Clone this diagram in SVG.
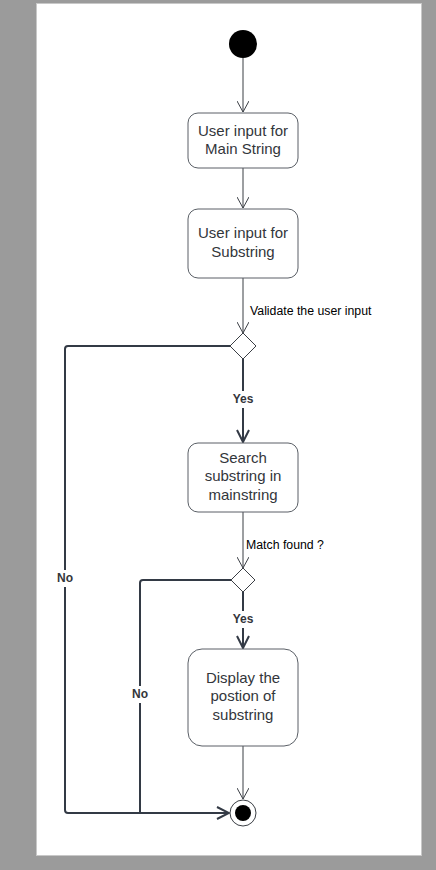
<svg xmlns="http://www.w3.org/2000/svg" width="436" height="870" viewBox="0 0 436 870">
<defs>
<style>
.node rect{fill:#fff;stroke:#5a5f66;stroke-width:1}
.t{font-family:"Liberation Sans",Arial,sans-serif;font-size:15px;fill:#33363b;text-anchor:middle}
.lbl{font-family:"Liberation Sans",Arial,sans-serif;font-size:12.3px;fill:#000}
.b{font-family:"Liberation Sans",Arial,sans-serif;font-size:12px;font-weight:bold;fill:#33363b;text-anchor:middle}
.thin{fill:none;stroke:#3b3f45;stroke-width:1}
.thick{fill:none;stroke:#333a45;stroke-width:2}
</style>
<marker id="av" viewBox="0 0 12 12" refX="11" refY="6" markerWidth="12" markerHeight="12" markerUnits="userSpaceOnUse" orient="auto">
<path d="M0,0 L11,6 L0,12" fill="none" stroke="#3b3f45" stroke-width="1"/>
</marker>
<marker id="avb" viewBox="0 0 14 14" refX="13" refY="7" markerWidth="14" markerHeight="14" markerUnits="userSpaceOnUse" orient="auto">
<path d="M1,1 L13,7 L1,13" fill="none" stroke="#333a45" stroke-width="2"/>
</marker>
</defs>
<rect x="0" y="0" width="436" height="870" fill="#9b9b9b"/>
<rect x="36.5" y="3.5" width="385" height="852" fill="#fff" stroke="#c8c8c8" stroke-width="1"/>

<g id="connectors">
<line class="thin" x1="243" y1="58" x2="243" y2="112" marker-end="url(#av)"/>
<line class="thin" x1="243" y1="168" x2="243" y2="208" marker-end="url(#av)"/>
<line class="thin" x1="243" y1="278" x2="243" y2="333" marker-end="url(#av)"/>
<path class="thick" d="M243,359 V391 M243,408 V442" marker-end="url(#avb)"/>
<path class="thick" d="M231,346 H68 Q65,346 65,349 V570 M65,587 V810 Q65,813 68,813 H229" marker-end="url(#avb)"/>
<line class="thin" x1="243" y1="512" x2="243" y2="568" marker-end="url(#av)"/>
<path class="thick" d="M243,592 V611 M243,628 V648" marker-end="url(#avb)"/>
<path class="thick" d="M231,580 H143 Q140,580 140,583 V686 M140,703 V813 H229"/>
<line class="thin" x1="243" y1="746" x2="243" y2="799" marker-end="url(#av)"/>
<text class="lbl" x="250" y="315">Validate the user input</text>
<text class="b" x="243" y="403">Yes</text>
<text class="lbl" x="246" y="549">Match found ?</text>
<text class="b" x="243" y="623">Yes</text>
<text class="b" x="65" y="582">No</text>
<text class="b" x="140" y="698">No</text>
</g>

<g id="start"><circle cx="243" cy="44" r="14" fill="#000"/></g>

<g id="mainstring" class="node">
<rect x="188" y="113" width="110" height="55" rx="10"/>
<text class="t" x="243" y="136">User input for</text>
<text class="t" x="243" y="154">Main String</text>
</g>

<g id="substring" class="node">
<rect x="188" y="209" width="110" height="69" rx="10"/>
<text class="t" x="243" y="238">User input for</text>
<text class="t" x="243" y="257">Substring</text>
</g>

<g id="validate"><path d="M243,333 L256,346 L243,359 L230,346 Z" fill="#fff" stroke="#3b3f45" stroke-width="1"/></g>

<g id="search" class="node">
<rect x="188" y="443" width="110" height="69" rx="10"/>
<text class="t" x="243" y="463">Search</text>
<text class="t" x="243" y="481">substring in</text>
<text class="t" x="243" y="500">mainstring</text>
</g>

<g id="match"><path d="M243,568 L255,580 L243,592 L231,580 Z" fill="#fff" stroke="#3b3f45" stroke-width="1"/></g>

<g id="display" class="node">
<rect x="188" y="649" width="110" height="97" rx="14"/>
<text class="t" x="243" y="683">Display the</text>
<text class="t" x="243" y="701">postion of</text>
<text class="t" x="243" y="720">substring</text>
</g>

<g id="end">
<circle cx="243" cy="813" r="13" fill="#fff" stroke="#3b3f45" stroke-width="1"/>
<circle cx="243" cy="813" r="8" fill="#000"/>
</g>
</svg>
